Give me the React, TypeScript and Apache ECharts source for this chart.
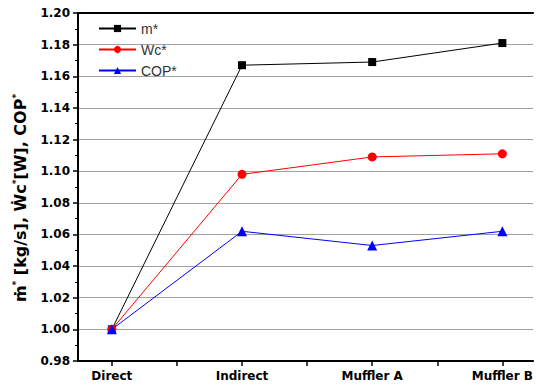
import React, { useEffect, useRef } from "react";
import * as echarts from "echarts";

const categories = ["Direct", "Indirect", "Muffler A", "Muffler B"];
const mStar = [1.0, 1.167, 1.169, 1.181];
const wcStar = [1.0, 1.098, 1.109, 1.111];
const copStar = [1.0, 1.062, 1.053, 1.062];
const seriesNames = ["m*", "Wc*", "COP*"];
const yAxisTitle = "{b|ṁ}{s|*}{b| [kg/s], Ẇc}{s|*}{b|[W], COP}{s|*}";

export default function App() {
  const ref = useRef<HTMLDivElement>(null);
  useEffect(() => {
    document.body.style.margin = "0";
    const chart = echarts.init(ref.current!, null, { renderer: "svg" });
    const toPts = (arr: number[]) => arr.map((v, i) => [i, v]);
    const font = "Liberation Sans, Arial, sans-serif";
    const boldFont = "DejaVu Sans, Verdana, sans-serif";
    chart.setOption({
      animation: false,
      backgroundColor: "#ffffff",
      grid: { left: 78, top: 13, right: 0, bottom: 27 },
      legend: {
        orient: "vertical",
        left: 93,
        top: 16,
        itemWidth: 37,
        itemHeight: 9,
        itemGap: 6,
        data: seriesNames,
        textStyle: { fontFamily: font, fontSize: 14, color: "#333", lineHeight: 15 },
      },
      graphic: [
        {
          type: "text",
          x: 20,
          y: 198,
          rotation: Math.PI / 2,
          style: {
            text: yAxisTitle,
            align: "center",
            verticalAlign: "middle",
            rich: {
              b: { fontFamily: boldFont, fontWeight: "bold", fontSize: 16, fill: "#000", lineHeight: 18 },
              s: { fontFamily: boldFont, fontWeight: "bold", fontSize: 9, fill: "#000", verticalAlign: "top", lineHeight: 18 },
            },
          },
        },
      ],
      xAxis: [
        {
          type: "value",
          min: -0.26,
          max: 3.236,
          axisLine: { show: true, onZero: false, lineStyle: { color: "#000", width: 2 } },
          axisTick: {
            show: true,
            length: 5,
            customValues: [0, 0.5, 1, 1.5, 2, 2.5, 3],
            lineStyle: { color: "#000", width: 1.5 },
          },
          axisLabel: {
            customValues: [0, 1, 2, 3],
            formatter: (v: number) => categories[Math.round(v)] ?? "",
            fontFamily: boldFont,
            fontWeight: "bold",
            fontSize: 12,
            color: "#000",
            margin: 9,
          },
          splitLine: { show: false },
        },
        {
          type: "value",
          position: "top",
          min: -0.26,
          max: 3.236,
          axisLine: { show: true, onZero: false, lineStyle: { color: "#000", width: 2 } },
          axisTick: { show: false },
          axisLabel: { show: false },
          splitLine: { show: false },
        },
      ],
      yAxis: {
        type: "value",
        min: 0.98,
        max: 1.2,
        interval: 0.02,
        axisLine: { show: true, onZero: false, lineStyle: { color: "#000", width: 2 } },
        axisTick: { show: true, length: 5, lineStyle: { color: "#000", width: 1.5 } },
        minorTick: { show: true, splitNumber: 2, length: 3, lineStyle: { color: "#000", width: 1 } },
        axisLabel: {
          formatter: (v: number) => v.toFixed(2),
          fontFamily: boldFont,
          fontWeight: "bold",
          fontSize: 12,
          color: "#000",
          margin: 8,
        },
        splitLine: { show: true, lineStyle: { color: "#a0a0a0", width: 1 } },
      },
      series: [
        {
          name: seriesNames[0],
          type: "line",
          data: toPts(mStar),
          symbol: "rect",
          symbolSize: 8,
          itemStyle: { color: "#000000" },
          lineStyle: { color: "#000000", width: 1 },
        },
        {
          name: seriesNames[1],
          type: "line",
          data: toPts(wcStar),
          symbol: "circle",
          symbolSize: 9,
          itemStyle: { color: "#ff0000" },
          lineStyle: { color: "#ff0000", width: 1 },
        },
        {
          name: seriesNames[2],
          type: "line",
          data: toPts(copStar),
          symbol: "triangle",
          symbolSize: 10,
          itemStyle: { color: "#0000ff" },
          lineStyle: { color: "#0000ff", width: 1 },
        },
      ],
    });
    return () => chart.dispose();
  }, []);
  return <div ref={ref} style={{ width: 536, height: 388 }} />;
}
